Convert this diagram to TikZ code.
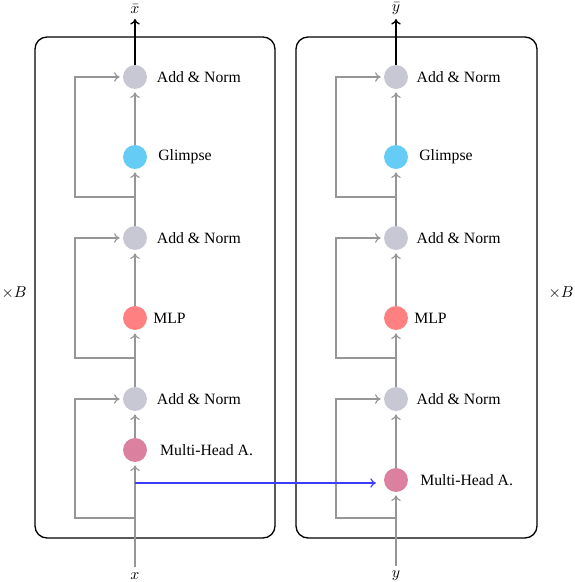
\documentclass[tikz,border=0pt]{standalone}
\usepackage{fontspec}
\setmainfont{Liberation Serif}
\usetikzlibrary{arrows.meta}
\definecolor{cgray}{RGB}{200,200,212}
\definecolor{cblue}{RGB}{100,204,245}
\definecolor{cred}{RGB}{255,128,128}
\definecolor{cpink}{RGB}{220,128,160}
\definecolor{lgray}{RGB}{150,150,150}
\definecolor{cblueline}{RGB}{60,60,255}
\begin{document}
\begin{tikzpicture}[x=0.635pt,y=-0.635pt,
  blob/.style={circle,minimum size=15.2pt,inner sep=0pt},
  lbl/.style={font=\fontsize{10}{12}\selectfont},
  conn/.style={draw=lgray,line width=0.75pt,-{To[length=3.5pt,width=6pt]},shorten >=2pt},
  plain/.style={draw=lgray,line width=0.75pt},
  frame/.style={draw=black,line width=0.85pt,rounded corners=7.6pt}]
\useasboundingbox (0,0) rectangle (574,582);
% frames
\draw[frame] (35,37) rectangle (275,538);
\draw[frame] (296,37) rectangle (537,538);
\node[lbl] (bl) at (14,293) {$\times B$};
\node[lbl] (br) at (561,293) {$\times B$};
% columns
\foreach \c/\x/\m/\n/\a/\h in {L/135/450/x/2.6pt/4.7pt, R/396/480/y/1.8pt/4.1pt}{
  \node[blob,fill=cgray] (\c an1) at (\x,77) {};
  \node[blob,fill=cblue] (\c gl) at (\x,157) {};
  \node[blob,fill=cgray] (\c an2) at (\x,238) {};
  \node[blob,fill=cred] (\c mlp) at (\x,318) {};
  \node[blob,fill=cgray] (\c an3) at (\x,399) {};
  \node[blob,fill=cpink] (\c mha) at (\x,\m) {};
  \node[lbl,anchor=west,xshift=\a] at (\c an1.east) {Add \& Norm};
  \node[lbl,anchor=west,xshift=3.5pt] at (\c gl.east) {Glimpse};
  \node[lbl,anchor=west,xshift=\a] at (\c an2.east) {Add \& Norm};
  \node[lbl,anchor=west,xshift=0.3pt] at (\c mlp.east) {MLP};
  \node[lbl,anchor=west,xshift=\a] at (\c an3.east) {Add \& Norm};
  \node[lbl,anchor=west,xshift=\h] at (\c mha.east) {Multi-Head A.};
  \node[lbl] (\c in) at (\x,576) {$\n$};
  \node[lbl] (\c out) at (\x,9) {$\bar{\n}$};
  \coordinate (\c j3) at (\x,518);
  \coordinate (\c j2) at (\x,358);
  \coordinate (\c j1) at (\x,197);
  \coordinate (\c top) at (\x,19);
  % main chain
  \draw[plain] (\c in.north) -- (\c j3);
  \draw[conn] (\c j3) -- (\c mha.south);
  \draw[conn] (\c mha.north) -- (\c an3.south);
  \draw[conn] (\c an3.north) -- (\c mlp.south);
  \draw[conn] (\c mlp.north) -- (\c an2.south);
  \draw[conn] (\c an2.north) -- (\c gl.south);
  \draw[conn] (\c gl.north) -- (\c an1.south);
  \draw[black,line width=0.85pt,-{To[length=3.5pt,width=6pt]}] (\c an1.north) -- (\c top);
}
% skip connections
\draw[conn] (Lj3) -| (75,399) -- (Lan3.west);
\draw[conn] (Lj2) -| (75,238) -- (Lan2.west);
\draw[conn] (Lj1) -| (75,77) -- (Lan1.west);
\draw[conn] (Rj3) -| (336,399) -- (Ran3.west);
\draw[conn] (Rj2) -| (336,238) -- (Ran2.west);
\draw[conn] (Rj1) -| (336,77) -- (Ran1.west);
% cross connection
\coordinate (bs) at (135,483);
\draw[cblueline,line width=0.75pt,-{To[length=3.5pt,width=6pt]},shorten >=5pt] (bs) -- (bs -| Rmha.west);
\end{tikzpicture}
\end{document}
